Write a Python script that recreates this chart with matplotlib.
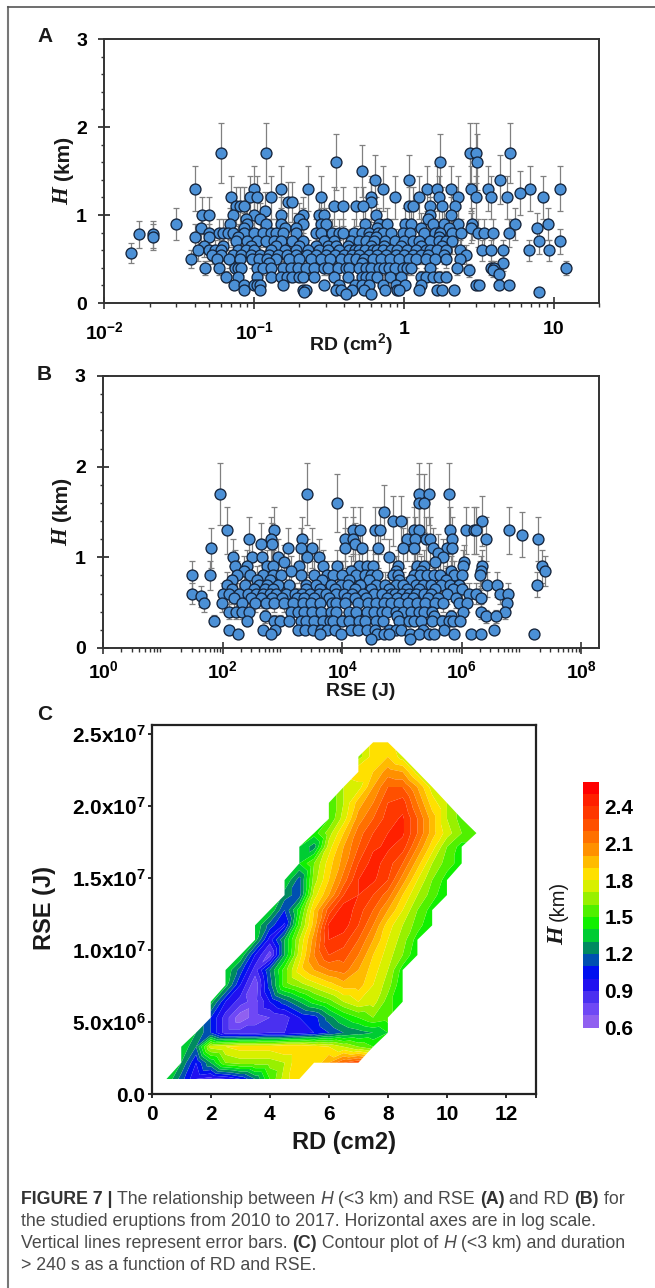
import matplotlib
matplotlib.use("Agg")
import matplotlib.pyplot as plt
import matplotlib.tri as mtri
from matplotlib.colors import ListedColormap, BoundaryNorm
from matplotlib.cm import ScalarMappable
from matplotlib.lines import Line2D
from matplotlib.ticker import LogLocator, MultipleLocator, FixedLocator, NullFormatter, FixedFormatter
import numpy as np

plt.rcParams['font.family'] = ['Liberation Sans', 'DejaVu Sans']
plt.rcParams['mathtext.fontset'] = 'custom'
plt.rcParams['mathtext.rm'] = 'Liberation Sans:bold'
plt.rcParams['mathtext.bf'] = 'Liberation Sans:bold'
plt.rcParams['mathtext.it'] = 'Liberation Sans:bold'
plt.rcParams['mathtext.default'] = 'rm'

# ---------- Panel A: H level, its error, RD values at that level ----------
A_H = [1.7, 1.6, 1.5, 1.4, 1.3, 1.25, 1.2, 1.15, 1.1, 1.05, 1.0, 0.95, 0.9, 0.85, 0.8, 0.78, 0.75, 0.7,
       0.65, 0.6, 0.57, 0.55, 0.5, 0.45, 0.4, 0.37, 0.33, 0.3, 0.2, 0.15, 0.13, 0.1]
A_ERR = [0.34, 0.32, 0.3, 0.28, 0.26, 0.25, 0.24, 0.23, 0.22, 0.21, 0.2, 0.19, 0.18, 0.17, 0.16, 0.156, 0.15, 0.14,
         0.13, 0.12, 0.114, 0.11, 0.1, 0.09, 0.08, 0.074, 0.066, 0.06, 0.04, 0.03, 0.026, 0.02]
A_RD = [
    [0.06, 0.12, 2.75, 3.0, 5.1],
    [0.35, 1.75, 3.05],
    [0.52],
    [0.64, 1.08, 4.4],
    [0.04, 0.10, 0.152, 0.23, 0.72, 1.42, 1.65, 2.05, 2.8, 3.65, 6.9, 11.0],
    [5.9],
    [0.07, 0.094, 0.105, 0.13, 0.28, 0.6, 0.87, 1.25, 1.7, 2.3, 3.0, 3.8, 4.9, 8.5],
    [0.167, 0.18, 0.6],
    [0.075, 0.08, 0.085, 0.34, 0.39, 0.48, 0.53, 1.08, 1.15, 1.5, 1.8, 2.2],
    [0.118],
    [0.045, 0.05, 0.072, 0.1, 0.15, 0.21, 0.27, 0.29, 0.65, 1.5, 2.05],
    [0.088, 0.11, 0.2, 1.45],
    [0.03, 0.069, 0.09, 0.12, 0.15, 0.21, 0.28, 0.3, 0.55, 0.68, 0.77, 1.02, 1.12, 1.55, 1.85, 2.3, 2.85, 5.5, 9.2],
    [0.044, 0.086, 0.16, 0.19, 0.66, 1.3, 2.0, 2.8, 7.7],
    [0.05, 0.058, 0.062, 0.067, 0.072, 0.085, 0.1, 0.115, 0.13, 0.14, 0.155, 0.19, 0.26, 0.28, 0.33, 0.37, 0.39,
     0.46, 0.52, 0.58, 0.67, 0.72, 0.82, 0.98, 1.1, 1.35, 1.6, 1.75, 2.1, 2.4, 3.1, 3.4, 3.9, 5.0],
    [0.017, 0.021],
    [0.021, 0.04, 0.05, 0.078, 0.58, 0.65, 1.7],
    [0.075, 0.09, 0.105, 0.12, 0.135, 0.15, 0.18, 0.21, 0.29, 0.34, 0.44, 0.5, 0.56, 0.63, 0.75, 0.87, 1.0, 1.15,
     1.25, 1.5, 1.7, 1.9, 2.1, 8.0, 11.0],
    [0.046, 0.062, 0.095, 0.14, 0.2, 0.26, 0.31, 0.35, 0.42, 0.6, 0.73, 0.95, 1.3, 1.8],
    [0.042, 0.05, 0.055, 0.06, 0.078, 0.088, 0.1, 0.13, 0.16, 0.19, 0.23, 0.27, 0.31, 0.37, 0.43, 0.47, 0.5, 0.55,
     0.62, 0.66, 0.72, 0.82, 0.9, 1.05, 1.2, 1.4, 1.5, 1.65, 1.9, 2.35, 3.3, 3.8, 4.6, 6.8, 9.3],
    [0.015],
    [0.052, 0.06, 0.072, 0.082, 0.095, 0.11, 0.125, 0.145, 0.165, 0.19, 0.225, 0.26, 0.3, 0.345, 0.4, 0.45, 0.5,
     0.58, 0.66, 0.76, 0.88, 1.0, 1.15, 1.3, 1.45, 1.85, 2.6],
    [0.038, 0.056, 0.068, 0.08, 0.096, 0.108, 0.122, 0.14, 0.17, 0.2, 0.24, 0.28, 0.32, 0.38, 0.43, 0.48, 0.54,
     0.62, 0.7, 0.8, 0.92, 1.08, 1.2, 1.4, 1.6, 1.9, 2.35],
    [0.125, 0.52, 4.6],
    [0.047, 0.058, 0.074, 0.078, 0.082, 0.105, 0.115, 0.13, 0.155, 0.175, 0.195, 0.22, 0.25, 0.29, 0.31, 0.36, 0.41,
     0.43, 0.5, 0.56, 0.6, 0.68, 0.74, 0.79, 0.87, 0.98, 1.05, 1.12, 1.5, 2.25, 3.8, 4.0, 12.0],
    [2.7, 3.9],
    [4.3],
    [0.065, 0.078, 0.105, 0.13, 0.15, 0.165, 0.18, 0.2, 0.21, 0.25, 0.34, 0.42, 0.52, 0.56, 0.6, 0.66, 0.8, 0.95,
     1.3, 1.4, 1.55, 1.7, 1.9],
    [0.073, 0.085, 0.1, 0.105, 0.11, 0.155, 0.29, 0.37, 0.47, 0.52, 0.58, 0.72, 0.88, 1.02, 1.3, 3.0, 3.15, 4.3, 5.0],
    [0.086, 0.11, 0.21, 0.22, 0.35, 0.38, 0.45, 0.54, 0.75, 0.9, 0.92, 1.25, 1.65, 1.8, 2.15],
    [0.215, 7.9],
    [0.41, 0.6],
]

# ---------- Panel B: H level, its error, RSE values at that level ----------
B_H = [1.7, 1.6, 1.5, 1.4, 1.3, 1.25, 1.2, 1.15, 1.1, 1.05, 1.0, 0.95, 0.9, 0.85, 0.8, 0.75, 0.7,
       0.65, 0.6, 0.57, 0.55, 0.5, 0.4, 0.35, 0.3, 0.2, 0.15, 0.1]
B_ERR = [0.34, 0.32, 0.3, 0.28, 0.26, 0.25, 0.24, 0.23, 0.22, 0.21, 0.2, 0.19, 0.18, 0.17, 0.16, 0.15, 0.14,
         0.13, 0.12, 0.114, 0.11, 0.1, 0.08, 0.07, 0.06, 0.04, 0.03, 0.02]
B_RSE = [
    [89, 2.6e3, 1.95e5, 2.8e5, 6e5],
    [8e3, 1.95e5, 2.3e5],
    [5e4],
    [7e4, 9.7e4, 2.2e6],
    [120, 720, 1.5e4, 2e4, 3.5e4, 4.2e4, 1.6e5, 1.9e5, 6.3e5, 1.17e6, 1.6e6, 1.75e6, 6.2e6],
    [1e7],
    [280, 630, 2150, 1.1e4, 1.5e4, 1.2e5, 1.65e5, 2.5e5, 2.9e5, 6.8e5, 2.5e6, 1.9e7],
    [430, 660, 1.65e4],
    [63, 1230, 2050, 3100, 1.1e4, 2.1e4, 4e4, 1.05e5, 1.6e5, 3.3e5, 5.6e5, 6.9e5],
    [4e5],
    [148, 310, 455, 830, 2570, 4e3, 6e4, 4.8e5],
    [1070, 3.5e5, 1.07e6],
    [162, 250, 560, 700, 1900, 4800, 8000, 1.9e4, 2.6e4, 3.3e4, 8.5e4, 1.8e5, 2.3e5, 1.03e6, 2.2e6, 2.2e7],
    [225, 1400, 1.4e4, 8e4, 2.1e5, 6.5e5, 2.1e6, 2.5e7],
    [30, 60, 170, 290, 480, 680, 950, 2000, 3300, 5500, 7000, 1e4, 1.7e4, 2.4e4, 3e4, 3.8e4, 7e4, 8.5e4, 1.6e5,
     2e5, 2.6e5, 3.4e5, 4.3e5, 7.5e5, 1e6, 2e6],
    [140, 380, 620, 4500, 1.3e4, 2.8e4, 9e4, 1.4e5, 5.5e5],
    [120, 240, 400, 550, 850, 1300, 2500, 3600, 6500, 9500, 1.25e4, 2e4, 3.7e4, 5.2e4, 8e4, 1.05e5, 1.7e5, 2.2e5,
     3.1e5, 4.4e5, 6.4e5, 8.8e5, 2.6e6, 3.8e6, 1.8e7],
    [145, 330, 510, 700, 2450, 4300, 7400, 1.65e4, 3e4, 6e4, 1.2e5, 1.9e5, 3.6e5, 7.2e5, 1.02e6],
    [30, 100, 125, 185, 260, 360, 470, 620, 780, 1150, 1600, 2100, 2900, 4000, 5300, 7800, 1.05e4, 1.45e4, 2.2e4,
     3.4e4, 4.6e4, 6.4e4, 7.6e4, 9.8e4, 1.3e5, 1.7e5, 2.3e5, 3.1e5, 5.6e5, 1.3e6, 1.75e6, 4.4e6, 5.9e6],
    [43],
    [155, 300, 440, 660, 970, 1750, 2300, 3400, 6000, 1.2e4, 1.6e4, 2.5e4, 5.5e4, 8.2e4, 1.15e5, 1.5e5, 2.7e5, 4e5,
     8e5, 2.1e6],
    [49, 98, 210, 350, 520, 720, 1050, 1500, 2200, 3000, 4200, 6800, 7900, 1.1e4, 1.8e4, 2.7e4, 3.6e4, 5e4, 6.6e4,
     9e4, 1.25e5, 1.8e5, 2.4e5, 3.6e5, 4.8e5, 9e5, 1.2e6, 5.6e6],
    [125, 165, 210, 280, 1400, 1800, 2300, 3100, 4400, 6500, 7800, 1.3e4, 1.7e4, 2.6e4, 3.4e4, 4.6e4, 5.5e4, 8e4,
     1.05e5, 1.4e5, 1.9e5, 2.3e5, 3.2e5, 1.05e6, 2.1e6, 5.2e6],
    [510, 2.5e6, 3.7e6, 3.4e5, 6.6e5, 8.2e4],
    [71, 250, 720, 900, 1300, 2000, 2500, 3400, 4700, 6200, 7000, 1e4, 1.3e4, 1.9e4, 2.4e4, 3.6e4, 4.7e4, 9e4, 1.3e5,
     1.6e5, 2.1e5, 3.2e5, 4.6e5, 6e5, 7.2e5, 9.2e5],
    [126, 480, 760, 1800, 2400, 3200, 4400, 5600, 7600, 1.4e4, 1.8e4, 2.6e4, 3.5e4, 6e4, 7.8e4, 9.6e4, 2.2e5, 5e5, 3.5e6],
    [180, 650, 4200, 9500, 3.8e4, 5e4, 6e4, 1.35e5, 1.9e5, 2.8e5, 3.4e5, 7.4e5, 1.4e6, 2.1e6, 1.6e7],
    [3e4, 1.35e5],
]

# ---------- Panel C: RSE rows, first RD in each row, H values on a 0.5 RD grid ----------
C_RSE = [1.04e6, 2.17e6, 3.28e6, 4.25e6, 5.3e6, 6.4e6, 7.56e6, 8.6e6, 9.64e6, 1.07e7, 1.17e7, 1.276e7, 1.38e7,
         1.484e7, 1.6e7, 1.715e7, 1.81e7, 1.91e7, 2.02e7, 2.13e7, 2.235e7, 2.34e7, 2.44e7]
C_RD_START = [0.5, 1.0, 1.0, 1.5, 2.0, 2.0, 2.5, 2.5, 3.0, 3.5, 3.5, 4.0, 4.5, 4.5, 5.0, 5.0, 5.5, 6.0, 6.0, 6.5,
              7.0, 7.0, 7.5]
C_RD_STEP = 0.5
C_H = [
    [1.4, 1.15, 0.9, 0.85, 0.9, 1.0, 1.2, 1.5, 1.75, 1.9],
    [1.3, 1.0, 1.3, 1.6, 1.65, 1.65, 1.65, 1.7, 1.9, 1.8, 2.0, 2.2, 2.3],
    [1.4, 1.2, 1.75, 1.8, 1.85, 1.85, 1.85, 1.9, 1.9, 1.85, 1.8, 1.7, 1.6, 1.5],
    [1.3, 1.1, 0.85, 0.85, 0.85, 0.9, 0.9, 0.95, 1.0, 1.1, 1.2, 1.25, 1.3, 1.4],
    [1.1, 0.85, 0.63, 0.75, 0.8, 0.85, 1.0, 1.05, 1.25, 1.4, 1.5, 1.6, 1.55],
    [1.35, 1.0, 0.85, 0.75, 1.0, 1.15, 1.3, 1.45, 1.55, 1.7, 1.8, 1.75, 1.55, 1.4],
    [1.35, 1.0, 0.72, 1.15, 1.55, 1.65, 1.75, 1.85, 1.95, 1.95, 1.8, 1.65, 1.4],
    [1.4, 1.15, 0.85, 1.2, 1.55, 1.85, 2.0, 2.1, 2.15, 2.0, 1.85, 1.7, 1.45],
    [1.4, 1.0, 0.75, 1.3, 1.75, 2.1, 2.3, 2.25, 2.1, 1.9, 1.75, 1.6, 1.4],
    [1.35, 0.95, 1.3, 1.7, 2.05, 2.4, 2.35, 2.2, 2.0, 1.8, 1.65, 1.45],
    [1.4, 1.15, 0.98, 1.55, 1.95, 2.42, 2.45, 2.3, 2.1, 1.85, 1.7, 1.55, 1.4],
    [1.4, 1.1, 1.45, 1.9, 2.25, 2.48, 2.35, 2.2, 2.0, 1.8, 1.6, 1.45],
    [1.25, 1.15, 1.75, 2.0, 2.3, 2.4, 2.3, 2.15, 1.9, 1.7, 1.55, 1.4],
    [1.4, 1.15, 1.65, 1.9, 2.15, 2.4, 2.42, 2.3, 2.05, 1.8, 1.6, 1.45],
    [1.4, 1.6, 1.85, 2.05, 2.3, 2.45, 2.35, 2.2, 1.95, 1.7, 1.55, 1.45],
    [1.4, 1.25, 1.75, 2.0, 2.2, 2.38, 2.42, 2.35, 2.1, 1.85, 1.6, 1.45],
    [1.45, 1.65, 1.9, 2.15, 2.3, 2.4, 2.42, 2.2, 1.95, 1.75, 1.6, 1.6],
    [1.5, 1.75, 2.05, 2.2, 2.35, 2.42, 2.2, 1.95, 1.7, 1.55],
    [1.5, 1.7, 1.95, 2.1, 2.3, 2.35, 2.1, 1.85, 1.7],
    [1.7, 1.75, 2.0, 2.2, 2.2, 2.0, 1.75],
    [1.9, 1.9, 2.05, 2.0, 1.75],
    [1.65, 1.85, 1.9, 1.75],
    [1.85, 1.85],
]
C_LEVELS = [0.6, 0.7, 0.8, 0.9, 1.0, 1.1, 1.2, 1.3, 1.4, 1.5, 1.6, 1.7, 1.8, 1.9, 2.0, 2.1, 2.2, 2.3, 2.4, 2.5, 2.6]
C_COLORS = ['#9060f0', '#6f48f5', '#4a30f0', '#2010f0', '#0010f0', '#0050b0', '#008a60', '#00cc33', '#10f000',
            '#50f000', '#98f000', '#d8f000', '#ffe000', '#ffbb00', '#ff9000', '#ff7000', '#ff5000', '#ff3800',
            '#ff2000', '#ff0000']
CBAR_TICKS = [0.6, 0.9, 1.2, 1.5, 1.8, 2.1, 2.4]

W, H = 655, 1288
fig = plt.figure(figsize=(W / 100, H / 100), dpi=100)


def px_axes(l, t, r, b):
    return fig.add_axes([l / W, 1 - b / H, (r - l) / W, (b - t) / H])


def ftext(x, y, s, **kw):
    return fig.text(x / W, 1 - y / H, s, **kw)


SP = '#333333'
BOLD = dict(fontweight='bold', color='#1a1a1a')

# page frame
fig.add_artist(Line2D([7.5 / W, 7.5 / W], [0, 1 - 6.5 / H], color='#777777', lw=1.5))
fig.add_artist(Line2D([7.5 / W, 1], [1 - 6.5 / H, 1 - 6.5 / H], color='#555555', lw=1.2))


def scatter_panel(ax, levels, errs, groups, xpad):
    xs, ys, es = [], [], []
    for h, e, g in zip(levels, errs, groups):
        for v in g:
            xs.append(v); ys.append(h); es.append(e)
    ax.errorbar(xs, ys, yerr=es, fmt='none', ecolor='#808080', elinewidth=0.9, capsize=2.2, capthick=0.9, zorder=2)
    ax.scatter(xs, ys, s=62, facecolor='#4b90d6', edgecolor='#14233a', linewidth=0.95, zorder=3, clip_on=False)
    ax.set_xscale('log')
    ax.set_ylim(0, 3)
    ax.yaxis.set_major_locator(FixedLocator([0, 1, 2, 3]))
    ax.yaxis.set_minor_locator(MultipleLocator(0.2))
    ax.tick_params(axis='y', which='major', direction='inout', length=9, width=1.3, color=SP, labelsize=14, pad=8)
    ax.tick_params(axis='y', which='minor', direction='out', length=2.5, width=1.0, color=SP)
    ax.tick_params(axis='x', which='major', direction='inout', length=8, width=1.2, color=SP, labelsize=14, pad=xpad)
    ax.tick_params(axis='x', which='minor', direction='out', length=3, width=1.0, color=SP)
    for s in ax.spines.values():
        s.set_linewidth(1.4); s.set_color(SP)
    ax.xaxis.set_minor_locator(LogLocator(base=10, subs=range(2, 10), numticks=30))
    ax.xaxis.set_minor_formatter(NullFormatter())


# ---------- A ----------
axA = px_axes(104.4, 39, 599, 303)
scatter_panel(axA, A_H, A_ERR, A_RD, 9)
axA.set_xlim(0.01, 20)
axA.xaxis.set_major_locator(FixedLocator([0.01, 0.1, 1, 10]))
axA.xaxis.set_major_formatter(FixedFormatter(['10$^{-2}$', '10$^{-1}$', '1', '10']))
for t in axA.get_xticklabels() + axA.get_yticklabels():
    t.set_fontweight('bold')
ftext(351, 344, 'RD (cm$^{2}$)', ha='center', va='center', fontsize=14, **BOLD)
ftext(37, 37, 'A', ha='left', va='center', fontsize=15, **BOLD)

# ---------- B ----------
axB = px_axes(103.2, 376, 599.4, 648)
scatter_panel(axB, B_H, B_ERR, B_RSE, 5)
axB.set_xlim(1, 10 ** 8.3)
axB.xaxis.set_major_locator(FixedLocator([1, 1e2, 1e4, 1e6, 1e8]))
axB.xaxis.set_major_formatter(FixedFormatter(['10$^{0}$', '10$^{2}$', '10$^{4}$', '10$^{6}$', '10$^{8}$']))
for t in axB.get_xticklabels() + axB.get_yticklabels():
    t.set_fontweight('bold')
ftext(361, 691, 'RSE (J)', ha='center', va='center', fontsize=14, **BOLD)
ftext(37, 375, 'B', ha='left', va='center', fontsize=15, **BOLD)

# y labels of A and B: serif italic H + bold sans (km)
for cx_lab, yH, yk in [(63, 196, 158), (62, 537, 499)]:
    ftext(cx_lab, yH, 'H', rotation=90, ha='center', va='center', fontsize=16.5, fontweight='bold', style='italic',
          family=['Liberation Serif'], color='#1a1a1a')
    ftext(cx_lab, yk, '(km)', rotation=90, ha='center', va='center', fontsize=15, **BOLD)

# ---------- C ----------
axC = px_axes(151.7, 725, 535.5, 1094)
cx, cy, cz = [], [], []
idx_rows = []
for j, (yv, x0, vals) in enumerate(zip(C_RSE, C_RD_START, C_H)):
    ids = []
    for i, z in enumerate(vals):
        ids.append(len(cx))
        cx.append(x0 + i * C_RD_STEP); cy.append(yv); cz.append(z)
    idx_rows.append(ids)
tris = []
for ra, rb in zip(idx_rows[:-1], idx_rows[1:]):
    a, b = 0, 0
    while a < len(ra) - 1 or b < len(rb) - 1:
        adv_a = b == len(rb) - 1 or (a < len(ra) - 1 and cx[ra[a + 1]] < cx[rb[b + 1]])
        if adv_a:
            tris.append([ra[a], ra[a + 1], rb[b]]); a += 1
        else:
            tris.append([ra[a], rb[b + 1], rb[b]]); b += 1
tris = np.array(tris)
jj = np.repeat(np.arange(len(idx_rows)), [len(r) for r in idx_rows])
gx, gy = np.array(cx) / C_RD_STEP, jj.astype(float)
mask = []
for t in tris:
    d = [np.hypot(gx[t[k]] - gx[t[(k + 1) % 3]], gy[t[k]] - gy[t[(k + 1) % 3]]) for k in range(3)]
    mask.append(max(d) > 1.6)
tri = mtri.Triangulation(np.array(cx), np.array(cy), tris, mask=np.array(mask))
cmap = ListedColormap(C_COLORS)
norm = BoundaryNorm(C_LEVELS, cmap.N)
axC.tricontourf(tri, np.array(cz), levels=C_LEVELS, cmap=cmap, norm=norm, antialiased=True)
axC.set_xlim(0, 13)
axC.set_ylim(0, 2.56e7)
axC.xaxis.set_major_locator(FixedLocator([0, 2, 4, 6, 8, 10, 12]))
axC.xaxis.set_minor_locator(FixedLocator([13]))
axC.yaxis.set_major_locator(FixedLocator([0, 5e6, 1e7, 1.5e7, 2e7, 2.5e7]))
axC.yaxis.set_major_formatter(FixedFormatter(['0.0', '5.0x10$^{6}$', '1.0x10$^{7}$', '1.5x10$^{7}$', '2.0x10$^{7}$',
                                              '2.5x10$^{7}$']))
axC.tick_params(axis='both', which='major', length=3, width=1.3, color='#1a1a1a', labelsize=15, pad=1.5)
axC.tick_params(axis='x', which='major', pad=5)
axC.tick_params(axis='x', which='minor', length=3, width=1.3, color='#1a1a1a')
for t in axC.get_xticklabels() + axC.get_yticklabels():
    t.set_fontweight('bold')
for s in axC.spines.values():
    s.set_linewidth(1.6); s.set_color('#222222')
ftext(344, 1142, 'RD (cm2)', ha='center', va='center', fontsize=17, **BOLD)
ftext(45, 908, 'RSE (J)', rotation=90, ha='center', va='center', fontsize=17, **BOLD)
ftext(37, 715, 'C', ha='left', va='center', fontsize=15, **BOLD)

# colour bar
cax = px_axes(582.7, 781.7, 599, 1027.7)
cb = fig.colorbar(ScalarMappable(norm=norm, cmap=cmap), cax=cax, ticks=CBAR_TICKS, spacing='proportional')
cb.outline.set_visible(False)
cb.dividers = None
cax.yaxis.set_major_formatter(FixedFormatter([f'{v:.1f}' for v in CBAR_TICKS]))
cax.tick_params(axis='y', length=0, labelsize=15, pad=4)
for t in cax.get_yticklabels():
    t.set_fontweight('bold')
cax.minorticks_off()
ftext(558, 936, 'H', rotation=90, ha='center', va='center', fontsize=17, fontweight='bold', style='italic',
      family=['Liberation Serif'], color='#1a1a1a')
ftext(558, 901, '(km)', rotation=90, ha='center', va='center', fontsize=14.5, color='#1a1a1a')

# ---------- caption ----------
CAP = '#4a4a4a'
CAP_SIZE = 12.8
CAP_LINES = [
    (1199, [('FIGURE 7 | ', 'b', ), ('The relationship between ', 'r'), ('H', 'i'), (' (<3 km) and RSE ', 'r'), ('(A)', 'b'),
            (' and RD ', 'r'), ('(B)', 'b'), (' for', 'r')]),
    (1221.5, [('the studied eruptions from 2010 to 2017. Horizontal axes are in log scale.', 'r')]),
    (1244, [('Vertical lines represent error bars. ', 'r'), ('(C)', 'b'), (' Contour plot of ', 'r'), ('H', 'i'),
            (' (<3 km) and duration', 'r')]),
    (1266, [('> 240 s as a function of RD and RSE.', 'r')]),
]
fig.canvas.draw()
rend = fig.canvas.get_renderer()


def run_width(s, kw):
    t = fig.text(0, 0, '|' + s + '|', fontsize=CAP_SIZE, **kw)
    w1 = t.get_window_extent(rend).width
    t.remove()
    t = fig.text(0, 0, '||', fontsize=CAP_SIZE, **kw)
    w0 = t.get_window_extent(rend).width
    t.remove()
    return w1 - w0


STY = {'r': dict(color=CAP), 'b': dict(color='#333333', fontweight='bold'), 'i': dict(color=CAP, style='italic')}
for y, runs in CAP_LINES:
    x = 21.0
    for s, k in runs:
        ftext(x, y, s, ha='left', va='center', fontsize=CAP_SIZE, **STY[k])
        x += run_width(s, STY[k])

fig.savefig('out.png', dpi=100, facecolor='white')
